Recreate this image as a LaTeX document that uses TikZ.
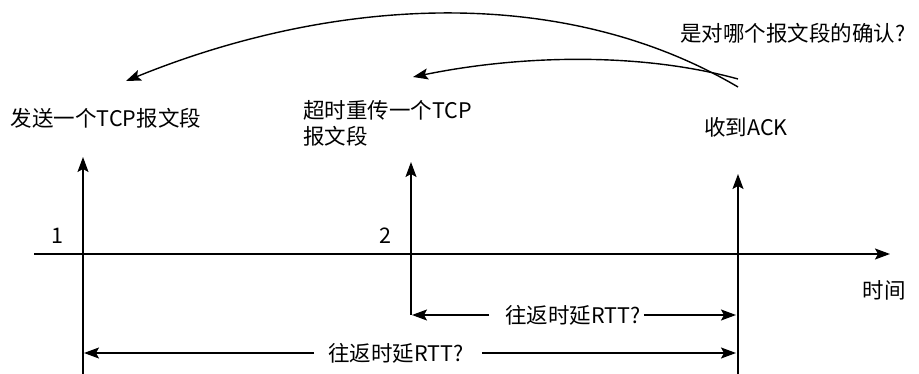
\documentclass[tikz,border=0pt]{standalone}
\usepackage{fontspec}
\setmainfont{Noto Sans CJK SC}
\usetikzlibrary{arrows.meta}
\tikzset{
  ln/.style={line width=1.4pt},
  tip/.style={-{Stealth[length=15pt,width=11pt,inset=3pt]}},
  lbl/.style={font=\fontsize{21.5}{26}\selectfont, inner sep=0pt},
}
\begin{document}
\begin{tikzpicture}[x=1pt,y=-1pt]
\useasboundingbox (0,0) rectangle (919,374);
% text nodes
\node[lbl] (send) at (106,118) {发送一个TCP报文段};
\node[lbl, anchor=north west, align=left, font=\fontsize{21.5}{26}\selectfont] (retx) at (303,100) {超时重传一个TCP\\报文段};
\node[lbl] (ack) at (746,127) {收到ACK};
\node[lbl, anchor=west] (q) at (680,33) {是对哪个报文段的确认?};
\node[lbl] (time) at (884,290) {时间};
\node[lbl] (n1) at (57,236) {1};
\node[lbl] (n2) at (385,236) {2};
\node[lbl] (rtt1) at (573,315) {往返时延RTT?};
\node[lbl] (rtt2) at (396,353) {往返时延RTT?};
% coordinates
\coordinate (axL) at (34,254);
\coordinate (axR) at (890,254);
\coordinate (v1b) at (83,374);
\coordinate (v1t) at (83,157);
\coordinate (v2b) at (411,315);
\coordinate (v2t) at (411,162);
\coordinate (v3b) at (738,374);
\coordinate (v3t) at (738,174);
\coordinate (c1s) at (738,87);
\coordinate (c1e) at (126,81);
\coordinate (c2s) at (738,79);
\coordinate (c2e) at (413,77);
\coordinate (r1L) at (412,315);
\coordinate (r1R) at (736,315);
\coordinate (r2L) at (84,353);
\coordinate (r2R) at (736,353);
% axis and verticals
\draw[ln, tip] (axL) -- (axR);
\draw[ln, tip] (v1b) -- (v1t);
\draw[ln, tip] (v2b) -- (v2t);
\draw[ln, tip] (v3b) -- (v3t);
% curves
\draw[ln, tip] (c1s) .. controls (560,-18) and (330,-2) .. (c1e);
\draw[ln, tip] (c2s) .. controls (640,52) and (520,55) .. (c2e);
% RTT arrows
\draw[ln, tip] ([xshift=-16pt]rtt1.west) -- (r1L);
\draw[ln, tip] ([xshift=3pt]rtt1.east) -- (r1R);
\draw[ln, tip] ([xshift=-14pt]rtt2.west) -- (r2L);
\draw[ln, tip] ([xshift=18pt]rtt2.east) -- (r2R);
\end{tikzpicture}
\end{document}
